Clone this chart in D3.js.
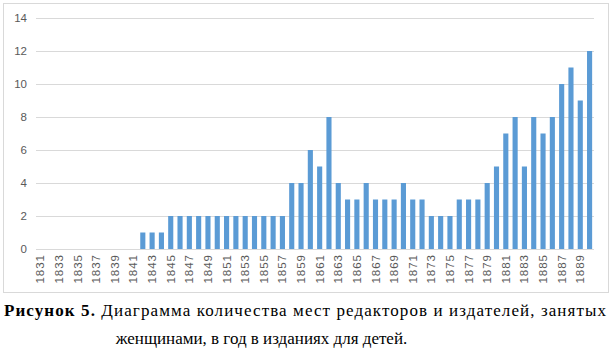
<!DOCTYPE html>
<html><head><meta charset="utf-8">
<script src="https://cdn.jsdelivr.net/npm/d3@7"></script>
<style>body{margin:0;background:#fff}</style>
</head><body>
<script>
const years = d3.range(1831, 1891).map(String);
const values = [0,0,0,0,0,0,0,0,0,0,0,1,1,1,2,2,2,2,2,2,2,2,2,2,2,2,2,4,4,6,5,8,4,3,3,4,3,3,3,4,3,3,2,2,2,3,3,3,4,5,7,8,5,8,7,8,10,11,9,12];
const yTicks = [0,2,4,6,8,10,12,14];
const captionBold = "Рисунок 5.";
const captionLine1 = " Диаграмма количества мест редакторов и издателей, занятых";
const captionLine2 = "женщинами, в год в изданиях для детей.";

const W = 613, H = 359;
const svg = d3.select("body").append("svg").attr("width", W).attr("height", H);
svg.append("rect").attr("x", 3.5).attr("y", 3.5).attr("width", 605).attr("height", 289)
  .attr("fill", "#fff").attr("stroke", "#d9d9d9").attr("stroke-width", 1);

const x = d3.scaleBand().domain(years).range([36, 594]).paddingInner(0.45).paddingOuter(0.2);
const y = d3.scaleLinear().domain([0, 14]).range([249, 18]);

const g = svg.append("g");
g.selectAll("line.grid").data(yTicks).join("line")
  .attr("x1", 36).attr("x2", 594)
  .attr("y1", d => Math.round(y(d)) + 0.5).attr("y2", d => Math.round(y(d)) + 0.5)
  .attr("stroke", "#d9d9d9").attr("stroke-width", 1);

g.selectAll("text.yl").data(yTicks).join("text")
  .attr("x", 27).attr("y", d => y(d) + 4)
  .attr("text-anchor", "end").attr("font-family", "Liberation Sans, Arial, sans-serif")
  .attr("font-size", 11.5).attr("fill", "#595959").text(d => d);

g.selectAll("rect.bar").data(values).join("rect")
  .attr("x", (d, i) => x(years[i])).attr("width", x.bandwidth())
  .attr("y", d => y(d)).attr("height", d => y(0) - y(d))
  .attr("fill", "#5b9bd5");

g.selectAll("text.xl").data(years.filter((d, i) => i % 2 === 0)).join("text")
  .attr("transform", d => `translate(${x(d) + x.bandwidth() / 2 + 4},${254}) rotate(-90)`)
  .attr("text-anchor", "end").attr("font-family", "Liberation Sans, Arial, sans-serif")
  .attr("font-size", 11.5).attr("letter-spacing", 1).attr("fill", "#595959").text(d => d);

const cap = svg.append("text").attr("x", 4).attr("y", 316)
  .attr("font-family", "Liberation Serif, Times New Roman, serif").attr("font-size", 17).attr("fill", "#000");
cap.append("tspan").attr("font-weight", "bold").text(captionBold);
cap.append("tspan").text(captionLine1);
cap.attr("textLength", 602).attr("lengthAdjust", "spacing");
svg.append("text").attr("x", 261.5).attr("y", 344).attr("text-anchor", "middle")
  .attr("font-family", "Liberation Serif, Times New Roman, serif").attr("font-size", 17).attr("fill", "#000")
  .text(captionLine2);
</script>
</body></html>
